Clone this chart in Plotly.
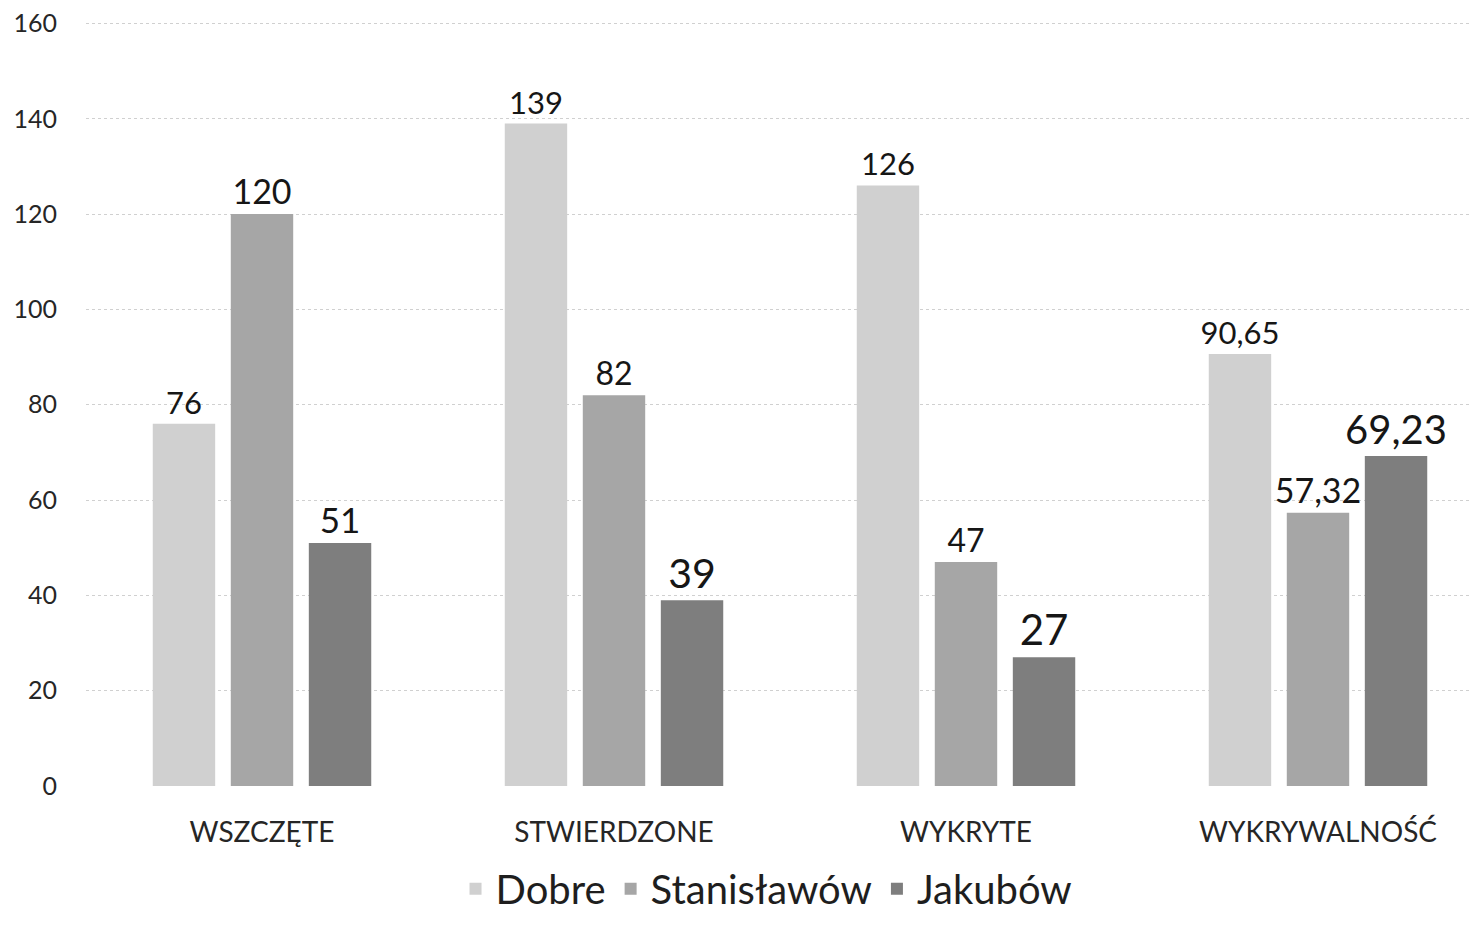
import plotly.graph_objects as go

categories = ["WSZCZĘTE", "STWIERDZONE", "WYKRYTE", "WYKRYWALNOŚĆ"]
series_names = ["Dobre", "Stanisławów", "Jakubów"]
dobre = [76, 139, 126, 90.65]
stanislawow = [120, 82, 47, 57.32]
jakubow = [51, 39, 27, 69.23]
y_ticks = [0, 20, 40, 60, 80, 100, 120, 140, 160]

colors = ["#d0d0d0", "#a6a6a6", "#7e7e7e"]
label_sizes = [
    [31, 31, 31, 31],
    [34, 32, 32, 34],
    [35, 41, 42, 40],
]


def fmt(v):
    if float(v).is_integer():
        return str(int(v))
    return f"{v:.2f}".replace(".", ",")


fig = go.Figure()
for name, vals, col, sizes in zip(series_names, [dobre, stanislawow, jakubow], colors, label_sizes):
    fig.add_trace(go.Bar(
        name=name,
        x=categories,
        y=vals,
        marker=dict(color=col, line=dict(width=0)),
        text=[fmt(v) for v in vals],
        textposition="outside",
        constraintext="none",
        textfont=dict(size=sizes, color="#161616", family="Lato"),
        cliponaxis=False,
    ))

fig.update_layout(
    width=1464,
    height=911,
    margin=dict(l=78, r=0, t=14, b=132, autoexpand=False),
    paper_bgcolor="white",
    plot_bgcolor="white",
    barmode="group",
    bargap=0.335,
    bargroupgap=0.2,
    font=dict(family="Lato", color="#333333"),
    showlegend=True,
    legend=dict(
        orientation="h",
        x=0.491,
        xanchor="center",
        y=-0.133,
        yanchor="middle",
        font=dict(size=40, color="#1e1e1e", family="Lato"),
        itemclick=False,
    ),
    xaxis=dict(
        range=[-0.5, 3.4375],
        showgrid=False,
        showline=False,
        ticks="",
        tickfont=dict(size=28, color="#262626", family="Lato"),
        ticklabelstandoff=26,
    ),
    yaxis=dict(
        range=[-0.2, 160.3],
        tickvals=y_ticks,
        showgrid=True,
        gridcolor="#d0d0d0",
        griddash="dot",
        gridwidth=1,
        zeroline=False,
        showline=False,
        ticks="",
        tickfont=dict(size=25, color="#262626", family="Lato"),
        ticklabelstandoff=28,
        ticklabeloverflow="allow",
    ),
)

fig.write_html("out.html")
